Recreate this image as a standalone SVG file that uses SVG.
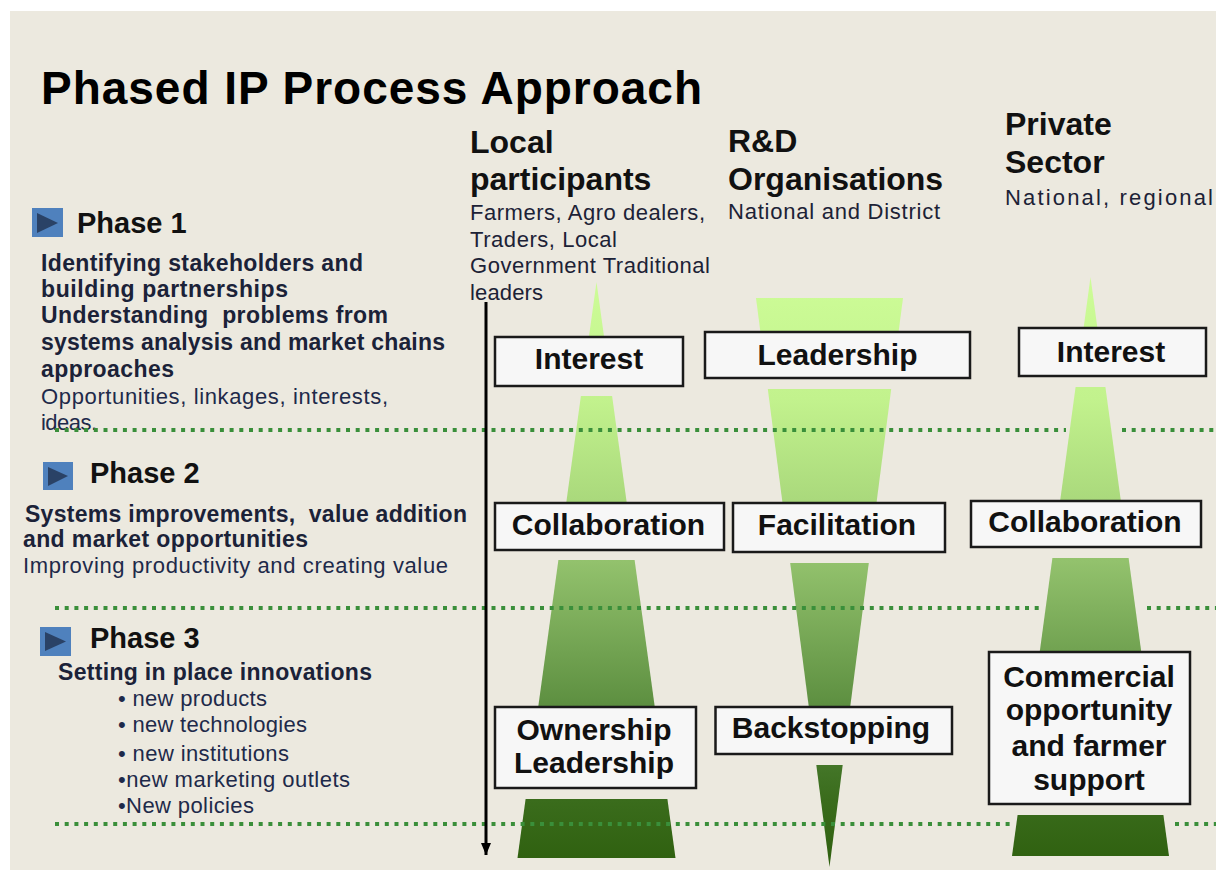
<svg xmlns="http://www.w3.org/2000/svg" width="1216" height="871" viewBox="0 0 1216 871">
  <defs>
    <linearGradient id="g" gradientUnits="userSpaceOnUse" x1="0" y1="280" x2="0" y2="870">
      <stop offset="0" stop-color="#CDFC97"/>
      <stop offset="0.203" stop-color="#C2F28D"/>
      <stop offset="0.373" stop-color="#AAD97C"/>
      <stop offset="0.475" stop-color="#93C26D"/>
      <stop offset="0.712" stop-color="#5F9142"/>
      <stop offset="0.814" stop-color="#45772A"/>
      <stop offset="0.881" stop-color="#3A6C1C"/>
      <stop offset="1" stop-color="#2E5F0E"/>
    </linearGradient>
    <marker id="arr" markerWidth="12" markerHeight="10" refX="12" refY="5" orient="auto" markerUnits="userSpaceOnUse" viewBox="0 0 12 10">
      <path d="M0,0 L12,5 L0,10 Z" fill="#000"/>
    </marker>
    <style>
      .sh { fill: url(#g); }
      .dot { stroke: #3A8F3A; stroke-width: 4; stroke-dasharray: 4 5.7; fill: none; }
      .box { fill: #F7F7F7; stroke: #1a1a1a; stroke-width: 2.5; }
      .bt { font-family: "Liberation Sans", Arial, sans-serif; font-weight: bold; font-size: 30px; fill: #111; text-anchor: middle; }
      .hd { font-family: "Liberation Sans", Arial, sans-serif; font-weight: bold; font-size: 32px; fill: #111; }
      .sub { font-family: "Liberation Sans", Arial, sans-serif; font-size: 22px; fill: #1c2236; }
      .ph { font-family: "Liberation Sans", Arial, sans-serif; font-weight: bold; font-size: 29px; fill: #111; }
      .lb { font-family: "Liberation Sans", Arial, sans-serif; font-weight: bold; font-size: 23px; fill: #1b2238; }
      .lr { font-family: "Liberation Sans", Arial, sans-serif; font-size: 22px; fill: #1e2a4a; }
      .ico { fill: #4F81BD; }
      .tri { fill: #2A4266; }
    </style>
  </defs>

  <rect x="0" y="0" width="1216" height="871" fill="#FFFFFF"/>
  <rect x="10" y="11" width="1206" height="859" fill="#ECE9DF"/>

  <text x="41" y="104" font-family="Liberation Sans, Arial, sans-serif" font-weight="bold" font-size="46" fill="#000" textLength="661" lengthAdjust="spacing">Phased IP Process Approach</text>

  <!-- Column headers -->
  <g id="hdr-local">
    <text class="hd" x="470" y="153">Local</text>
    <text class="hd" x="470" y="190">participants</text>
    <text class="sub" x="470" y="220" textLength="235" lengthAdjust="spacing">Farmers, Agro dealers,</text>
    <text class="sub" x="470" y="247" textLength="147" lengthAdjust="spacing">Traders, Local</text>
    <text class="sub" x="470" y="273" textLength="240" lengthAdjust="spacing">Government Traditional</text>
    <text class="sub" x="470" y="300" textLength="73" lengthAdjust="spacing">leaders</text>
  </g>
  <g id="hdr-rd">
    <text class="hd" x="728" y="152">R&amp;D</text>
    <text class="hd" x="728" y="190">Organisations</text>
    <text class="sub" x="728" y="219" textLength="212" lengthAdjust="spacing">National and District</text>
  </g>
  <g id="hdr-private">
    <text class="hd" x="1005" y="135">Private</text>
    <text class="hd" x="1005" y="173">Sector</text>
    <text class="sub" x="1005" y="205" textLength="208" lengthAdjust="spacing">National, regional</text>
  </g>

  <!-- Phase descriptions -->
  <g id="phase1">
    <rect class="ico" x="32" y="208" width="31" height="29"/>
    <path class="tri" d="M37,213 L58,223 L37,233 Z"/>
    <text class="ph" x="77" y="233">Phase 1</text>
    <text class="lb" x="41" y="271" textLength="322" lengthAdjust="spacing">Identifying stakeholders and</text>
    <text class="lb" x="41" y="297" textLength="247" lengthAdjust="spacing">building partnerships</text>
    <text class="lb" x="41" y="323" textLength="347" lengthAdjust="spacing" xml:space="preserve">Understanding  problems from</text>
    <text class="lb" x="41" y="350" textLength="404" lengthAdjust="spacing">systems analysis and market chains</text>
    <text class="lb" x="41" y="377" textLength="133" lengthAdjust="spacing">approaches</text>
    <text class="lr" x="41" y="404" textLength="347" lengthAdjust="spacing">Opportunities, linkages, interests,</text>
    <text class="lr" x="41" y="430" textLength="56" lengthAdjust="spacing">ideas.</text>
  </g>
  <g id="phase2">
    <rect class="ico" x="43" y="462" width="30" height="28"/>
    <path class="tri" d="M48,467 L68,476 L48,486 Z"/>
    <text class="ph" x="90" y="483">Phase 2</text>
    <text class="lb" x="25" y="522" textLength="442" lengthAdjust="spacing" xml:space="preserve">Systems improvements,  value addition</text>
    <text class="lb" x="23" y="547" textLength="285" lengthAdjust="spacing">and market opportunities</text>
    <text class="lr" x="23" y="573" textLength="425" lengthAdjust="spacing">Improving productivity and creating value</text>
  </g>
  <g id="phase3">
    <rect class="ico" x="40" y="627" width="31" height="29"/>
    <path class="tri" d="M45,632 L66,641.5 L45,651 Z"/>
    <text class="ph" x="90" y="648">Phase 3</text>
    <text class="lb" x="58" y="680" textLength="314" lengthAdjust="spacing">Setting in place innovations</text>
    <text class="lr" x="118" y="706" textLength="149" lengthAdjust="spacing">• new products</text>
    <text class="lr" x="118" y="732" textLength="189" lengthAdjust="spacing">• new technologies</text>
    <text class="lr" x="118" y="761" textLength="171" lengthAdjust="spacing">• new institutions</text>
    <text class="lr" x="118" y="787" textLength="232" lengthAdjust="spacing">•new marketing outlets</text>
    <text class="lr" x="118" y="813" textLength="136" lengthAdjust="spacing">•New policies</text>
  </g>

  <!-- Funnel shapes: local and R&D -->
  <g id="shape-local">
    <polygon class="sh" points="596.5,282 604.5,340 588.5,340"/>
    <polygon class="sh" points="580.9,396 612.1,396 627.2,506 565.8,506"/>
    <polygon class="sh" points="558.4,560 634.6,560 655.2,710 537.8,710"/>
    <polygon class="sh" points="525.6,799 667.4,799 675.5,858 517.5,858"/>
  </g>
  <g id="shape-rd">
    <polygon class="sh" points="756,298 903,298 898.2,335 760.8,335"/>
    <polygon class="sh" points="767.8,389 891.2,389 876.1,506 782.9,506"/>
    <polygon class="sh" points="790.2,563 868.8,563 849.8,710 809.2,710"/>
    <polygon class="sh" points="816.3,765 842.7,765 829.5,867"/>
  </g>

  <!-- Phase separators and timeline arrow -->
  <g id="connectors">
    <line class="dot" x1="55" y1="430" x2="1066" y2="430"/>
    <line class="dot" x1="1122" y1="430" x2="1216" y2="430"/>
    <line class="dot" x1="55" y1="608" x2="1041" y2="608"/>
    <line class="dot" x1="1147" y1="608" x2="1216" y2="608"/>
    <line class="dot" x1="55" y1="824" x2="1014" y2="824"/>
    <line class="dot" x1="1175" y1="824" x2="1216" y2="824"/>
    <line x1="486" y1="302" x2="486" y2="855" stroke="#000" stroke-width="3" marker-end="url(#arr)"/>
  </g>

  <g id="shape-private">
    <polygon class="sh" points="1090.5,277 1097.8,331 1083.2,331"/>
    <polygon class="sh" points="1075.6,387 1105.4,387 1121.3,504 1059.7,504"/>
    <polygon class="sh" points="1052.4,558 1128.6,558 1141.7,655 1039.3,655"/>
    <polygon class="sh" points="1017.6,815 1163.4,815 1169,856 1012,856"/>
  </g>

  <!-- Boxes -->
  <g id="local-interest">
    <rect class="box" x="495" y="337" width="188" height="49"/>
    <text class="bt" x="589" y="369">Interest</text>
  </g>
  <g id="rd-leadership">
    <rect class="box" x="705" y="332" width="265" height="46"/>
    <text class="bt" x="837.5" y="365">Leadership</text>
  </g>
  <g id="private-interest">
    <rect class="box" x="1019" y="328" width="187" height="48"/>
    <text class="bt" x="1111" y="362">Interest</text>
  </g>
  <g id="local-collaboration">
    <rect class="box" x="495" y="503" width="229" height="47"/>
    <text class="bt" x="608.5" y="535">Collaboration</text>
  </g>
  <g id="rd-facilitation">
    <rect class="box" x="733" y="503" width="212" height="49"/>
    <text class="bt" x="837" y="535">Facilitation</text>
  </g>
  <g id="private-collaboration">
    <rect class="box" x="971" y="501" width="230" height="46"/>
    <text class="bt" x="1085" y="532">Collaboration</text>
  </g>
  <g id="local-ownership">
    <rect class="box" x="495" y="707" width="201" height="81"/>
    <text class="bt" x="594" y="740">Ownership</text>
    <text class="bt" x="594" y="773">Leadership</text>
  </g>
  <g id="rd-backstopping">
    <rect class="box" x="715.5" y="707" width="236.5" height="47"/>
    <text class="bt" x="831" y="738">Backstopping</text>
  </g>
  <g id="private-commercial">
    <rect class="box" x="989" y="652" width="201" height="152"/>
    <text class="bt" x="1089" y="687">Commercial</text>
    <text class="bt" x="1089" y="720">opportunity</text>
    <text class="bt" x="1089" y="756">and farmer</text>
    <text class="bt" x="1089" y="790">support</text>
  </g>
</svg>
